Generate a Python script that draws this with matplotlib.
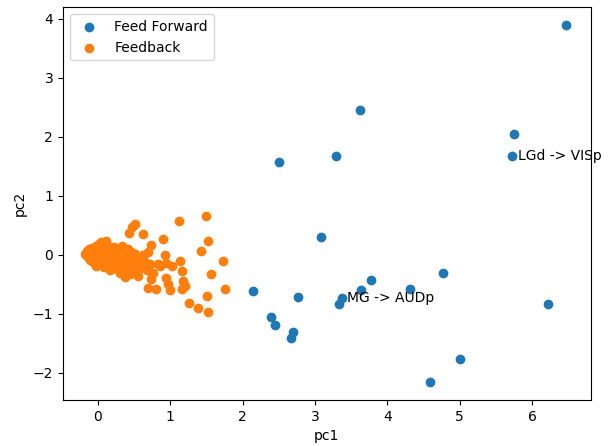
import numpy as np
import matplotlib
matplotlib.use("Agg")
import matplotlib.pyplot as plt

# feed forward connections (pc1, pc2)
ff_pc1 = [6.47, 3.62, 5.75, 5.72, 3.29, 2.51, 3.08, 4.77, 3.78, 3.63, 4.31,
          2.15, 2.77, 3.37, 3.33, 6.22, 2.40, 2.45, 2.70, 2.67, 5.00, 4.59]
ff_pc2 = [3.89, 2.46, 2.05, 1.67, 1.67, 1.58, 0.30, -0.30, -0.42, -0.59, -0.57,
          -0.61, -0.71, -0.73, -0.84, -0.84, -1.06, -1.19, -1.31, -1.40, -1.76, -2.16]

# feedback connections (pc1, pc2)
fb_pc1 = [-0.18, -0.15, -0.14, -0.12, -0.10, -0.10, -0.08, -0.07, -0.06, -0.05,
          -0.04, -0.03, -0.02, 0.00, 0.00, 0.02, 0.03, 0.03, 0.04, 0.05,
          0.06, 0.07, 0.08, 0.09, 0.10, 0.11, 0.12, 0.13, 0.14, 0.15,
          0.16, 0.17, 0.18, 0.20, 0.21, 0.22, 0.24, 0.25, 0.27, 0.28,
          0.30, 0.31, 0.33, 0.34, 0.35, 0.36, 0.37, 0.38, 0.40, 0.41,
          0.42, 0.44, 0.45, 0.46, 0.48, 0.50, 0.52, 0.53, 0.55, 0.57,
          0.60, 0.62, 0.65, 0.68, 0.70, 0.72, 0.75,
          0.43, 0.47, 0.51, 0.63, 0.73, 0.90, 0.93,
          0.86, 0.95, 1.02, 1.13, 1.16, 1.18, 1.20, 1.17, 0.95, 0.97, 1.00,
          0.70, 0.81, 0.74, 0.77, 0.83, 1.12, 1.49, 1.52, 1.43, 1.73, 1.56,
          1.76, 1.51, 1.26, 1.39, 1.52]
fb_pc2 = [0.02, 0.06, -0.03, 0.10, 0.00, -0.08, 0.12, 0.04, -0.12, 0.08,
          -0.04, 0.15, -0.18, 0.05, -0.08, 0.18, 0.10, -0.02, -0.14, 0.22,
          0.03, -0.08, 0.14, -0.20, 0.06, -0.03, 0.24, 0.17, -0.12, 0.02,
          0.10, -0.26, -0.06, 0.05, -0.16, 0.14, -0.02, -0.22, 0.08, -0.10,
          0.02, -0.30, 0.15, -0.18, -0.05, 0.08, -0.38, -0.25, 0.00, -0.12,
          0.10, -0.32, -0.20, 0.05, -0.08, -0.28, 0.02, -0.15, -0.35, -0.05,
          -0.22, 0.00, -0.12, -0.25, 0.05, -0.15, -0.30,
          0.38, 0.48, 0.53, 0.35, 0.17, 0.27, 0.00,
          -0.19, -0.13, -0.19, -0.10, -0.27, -0.44, -0.53, -0.58, -0.39, -0.50, -0.60,
          -0.56, -0.58, -0.41, -0.30, -0.16, 0.57, 0.66, 0.23, 0.07, -0.10, -0.32,
          -0.57, -0.69, -0.82, -0.90, -0.97]

labels = ["LGd -> VISp", "MG -> AUDp"]
label_idx = [3, 13]

fig = plt.figure(figsize=(6.09, 4.46), dpi=100)
ax = fig.add_axes([0.1034, 0.103, 0.8666, 0.881])

ax.scatter(ff_pc1, ff_pc2, label="Feed Forward")
ax.scatter(fb_pc1, fb_pc2, label="Feedback")

for name, i in zip(labels, label_idx):
    ax.text(ff_pc1[i] + 0.08, ff_pc2[i], name, va="center", fontsize=10)

ax.set_xlim(-0.48, 6.81)
ax.set_ylim(-2.46, 4.2)
ax.set_xticks(range(0, 7))
ax.set_yticks(range(-2, 5))
ax.set_xlabel("pc1")
ax.set_ylabel("pc2")
ax.legend(loc="upper left")

fig.savefig("out.png", dpi=100)
